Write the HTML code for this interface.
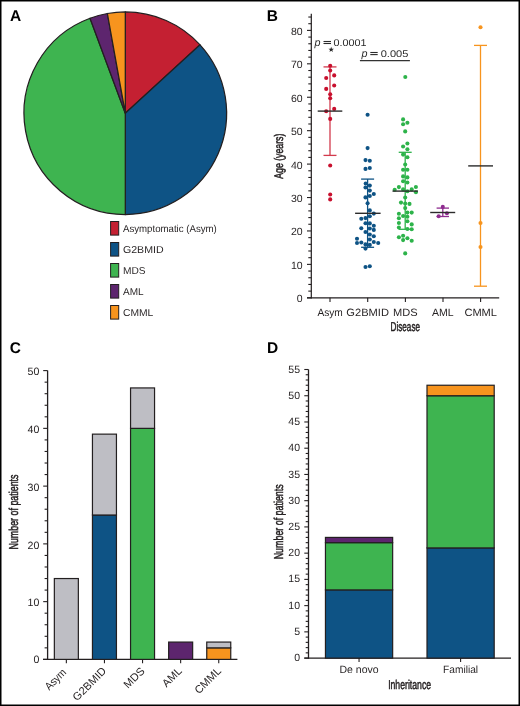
<!DOCTYPE html>
<html><head><meta charset="utf-8"><style>
html,body{margin:0;padding:0;background:#fff;}
svg{display:block;will-change:transform;}
text{font-family:"Liberation Sans", sans-serif;text-rendering:geometricPrecision;}
</style></head><body>
<svg width="520" height="706" viewBox="0 0 520 706">
<rect width="520" height="706" fill="#fff"/>
<rect x="0.75" y="0.75" width="518.5" height="704.5" fill="none" stroke="#000" stroke-width="1.5"/>
<text x="10.00" y="20.80" font-size="15.5" font-weight="bold" fill="#000">A</text>
<path d="M125.3,113.2 L125.30,11.90 A101.3,101.3 0 0 1 200.04,44.82 Z" fill="#C42032" stroke="#231F20" stroke-width="1.25" stroke-linejoin="round"/>
<path d="M125.3,113.2 L200.04,44.82 A101.3,101.3 0 0 1 125.30,214.50 Z" fill="#0E5385" stroke="#231F20" stroke-width="1.25" stroke-linejoin="round"/>
<path d="M125.3,113.2 L125.30,214.50 A101.3,101.3 0 0 1 90.03,18.24 Z" fill="#3EB450" stroke="#231F20" stroke-width="1.25" stroke-linejoin="round"/>
<path d="M125.3,113.2 L90.03,18.24 A101.3,101.3 0 0 1 107.38,13.50 Z" fill="#5D256E" stroke="#231F20" stroke-width="1.25" stroke-linejoin="round"/>
<path d="M125.3,113.2 L107.38,13.50 A101.3,101.3 0 0 1 125.30,11.90 Z" fill="#F7941E" stroke="#231F20" stroke-width="1.25" stroke-linejoin="round"/>
<rect x="110.60" y="221.50" width="8.10" height="13.60" fill="#C42032" stroke="#231F20" stroke-width="1.0"/>
<text x="123.00" y="232.20" font-size="10.0" textLength="93.80" lengthAdjust="spacingAndGlyphs" fill="#231F20">Asymptomatic (Asym)</text>
<rect x="110.60" y="242.50" width="8.10" height="13.60" fill="#0E5385" stroke="#231F20" stroke-width="1.0"/>
<text x="123.00" y="253.20" font-size="10.0" textLength="40.60" lengthAdjust="spacingAndGlyphs" fill="#231F20">G2BMID</text>
<rect x="110.60" y="263.50" width="8.10" height="13.60" fill="#3EB450" stroke="#231F20" stroke-width="1.0"/>
<text x="123.00" y="274.20" font-size="10.0" textLength="22.60" lengthAdjust="spacingAndGlyphs" fill="#231F20">MDS</text>
<rect x="110.60" y="284.50" width="8.10" height="13.60" fill="#5D256E" stroke="#231F20" stroke-width="1.0"/>
<text x="123.00" y="295.20" font-size="10.0" textLength="20.60" lengthAdjust="spacingAndGlyphs" fill="#231F20">AML</text>
<rect x="110.60" y="305.50" width="8.10" height="13.60" fill="#F7941E" stroke="#231F20" stroke-width="1.0"/>
<text x="123.00" y="316.20" font-size="10.0" textLength="30.30" lengthAdjust="spacingAndGlyphs" fill="#231F20">CMML</text>
<text x="266.80" y="20.80" font-size="15.5" font-weight="bold" fill="#000">B</text>
<line x1="311.30" y1="13.80" x2="311.30" y2="298.40" stroke="#231F20" stroke-width="1.2"/>
<line x1="307.00" y1="297.80" x2="499.20" y2="297.80" stroke="#231F20" stroke-width="1.3"/>
<line x1="307.00" y1="297.80" x2="311.30" y2="297.80" stroke="#231F20" stroke-width="1.1"/>
<text x="302.60" y="301.50" font-size="10.5" text-anchor="end" fill="#231F20">0</text>
<line x1="308.30" y1="291.12" x2="311.30" y2="291.12" stroke="#231F20" stroke-width="1.1"/>
<line x1="308.30" y1="284.43" x2="311.30" y2="284.43" stroke="#231F20" stroke-width="1.1"/>
<line x1="308.30" y1="277.75" x2="311.30" y2="277.75" stroke="#231F20" stroke-width="1.1"/>
<line x1="308.30" y1="271.06" x2="311.30" y2="271.06" stroke="#231F20" stroke-width="1.1"/>
<line x1="307.00" y1="264.38" x2="311.30" y2="264.38" stroke="#231F20" stroke-width="1.1"/>
<text x="302.60" y="268.88" font-size="10.5" text-anchor="end" fill="#231F20">10</text>
<line x1="308.30" y1="257.69" x2="311.30" y2="257.69" stroke="#231F20" stroke-width="1.1"/>
<line x1="308.30" y1="251.00" x2="311.30" y2="251.00" stroke="#231F20" stroke-width="1.1"/>
<line x1="308.30" y1="244.32" x2="311.30" y2="244.32" stroke="#231F20" stroke-width="1.1"/>
<line x1="308.30" y1="237.63" x2="311.30" y2="237.63" stroke="#231F20" stroke-width="1.1"/>
<line x1="307.00" y1="230.95" x2="311.30" y2="230.95" stroke="#231F20" stroke-width="1.1"/>
<text x="302.60" y="235.45" font-size="10.5" text-anchor="end" fill="#231F20">20</text>
<line x1="308.30" y1="224.26" x2="311.30" y2="224.26" stroke="#231F20" stroke-width="1.1"/>
<line x1="308.30" y1="217.58" x2="311.30" y2="217.58" stroke="#231F20" stroke-width="1.1"/>
<line x1="308.30" y1="210.90" x2="311.30" y2="210.90" stroke="#231F20" stroke-width="1.1"/>
<line x1="308.30" y1="204.21" x2="311.30" y2="204.21" stroke="#231F20" stroke-width="1.1"/>
<line x1="307.00" y1="197.53" x2="311.30" y2="197.53" stroke="#231F20" stroke-width="1.1"/>
<text x="302.60" y="202.03" font-size="10.5" text-anchor="end" fill="#231F20">30</text>
<line x1="308.30" y1="190.84" x2="311.30" y2="190.84" stroke="#231F20" stroke-width="1.1"/>
<line x1="308.30" y1="184.16" x2="311.30" y2="184.16" stroke="#231F20" stroke-width="1.1"/>
<line x1="308.30" y1="177.47" x2="311.30" y2="177.47" stroke="#231F20" stroke-width="1.1"/>
<line x1="308.30" y1="170.78" x2="311.30" y2="170.78" stroke="#231F20" stroke-width="1.1"/>
<line x1="307.00" y1="164.10" x2="311.30" y2="164.10" stroke="#231F20" stroke-width="1.1"/>
<text x="302.60" y="168.60" font-size="10.5" text-anchor="end" fill="#231F20">40</text>
<line x1="308.30" y1="157.41" x2="311.30" y2="157.41" stroke="#231F20" stroke-width="1.1"/>
<line x1="308.30" y1="150.73" x2="311.30" y2="150.73" stroke="#231F20" stroke-width="1.1"/>
<line x1="308.30" y1="144.04" x2="311.30" y2="144.04" stroke="#231F20" stroke-width="1.1"/>
<line x1="308.30" y1="137.36" x2="311.30" y2="137.36" stroke="#231F20" stroke-width="1.1"/>
<line x1="307.00" y1="130.68" x2="311.30" y2="130.68" stroke="#231F20" stroke-width="1.1"/>
<text x="302.60" y="135.18" font-size="10.5" text-anchor="end" fill="#231F20">50</text>
<line x1="308.30" y1="123.99" x2="311.30" y2="123.99" stroke="#231F20" stroke-width="1.1"/>
<line x1="308.30" y1="117.31" x2="311.30" y2="117.31" stroke="#231F20" stroke-width="1.1"/>
<line x1="308.30" y1="110.62" x2="311.30" y2="110.62" stroke="#231F20" stroke-width="1.1"/>
<line x1="308.30" y1="103.94" x2="311.30" y2="103.94" stroke="#231F20" stroke-width="1.1"/>
<line x1="307.00" y1="97.25" x2="311.30" y2="97.25" stroke="#231F20" stroke-width="1.1"/>
<text x="302.60" y="101.75" font-size="10.5" text-anchor="end" fill="#231F20">60</text>
<line x1="308.30" y1="90.56" x2="311.30" y2="90.56" stroke="#231F20" stroke-width="1.1"/>
<line x1="308.30" y1="83.88" x2="311.30" y2="83.88" stroke="#231F20" stroke-width="1.1"/>
<line x1="308.30" y1="77.19" x2="311.30" y2="77.19" stroke="#231F20" stroke-width="1.1"/>
<line x1="308.30" y1="70.51" x2="311.30" y2="70.51" stroke="#231F20" stroke-width="1.1"/>
<line x1="307.00" y1="63.82" x2="311.30" y2="63.82" stroke="#231F20" stroke-width="1.1"/>
<text x="302.60" y="68.32" font-size="10.5" text-anchor="end" fill="#231F20">70</text>
<line x1="308.30" y1="57.14" x2="311.30" y2="57.14" stroke="#231F20" stroke-width="1.1"/>
<line x1="308.30" y1="50.45" x2="311.30" y2="50.45" stroke="#231F20" stroke-width="1.1"/>
<line x1="308.30" y1="43.77" x2="311.30" y2="43.77" stroke="#231F20" stroke-width="1.1"/>
<line x1="308.30" y1="37.08" x2="311.30" y2="37.08" stroke="#231F20" stroke-width="1.1"/>
<line x1="307.00" y1="30.40" x2="311.30" y2="30.40" stroke="#231F20" stroke-width="1.1"/>
<text x="302.60" y="34.90" font-size="10.5" text-anchor="end" fill="#231F20">80</text>
<line x1="308.30" y1="23.71" x2="311.30" y2="23.71" stroke="#231F20" stroke-width="1.1"/>
<line x1="308.30" y1="17.03" x2="311.30" y2="17.03" stroke="#231F20" stroke-width="1.1"/>
<line x1="330.00" y1="297.80" x2="330.00" y2="301.90" stroke="#231F20" stroke-width="1.1"/>
<line x1="367.70" y1="297.80" x2="367.70" y2="301.90" stroke="#231F20" stroke-width="1.1"/>
<line x1="405.40" y1="297.80" x2="405.40" y2="301.90" stroke="#231F20" stroke-width="1.1"/>
<line x1="443.00" y1="297.80" x2="443.00" y2="301.90" stroke="#231F20" stroke-width="1.1"/>
<line x1="480.60" y1="297.80" x2="480.60" y2="301.90" stroke="#231F20" stroke-width="1.1"/>
<text x="330.10" y="315.60" font-size="10.6" text-anchor="middle" textLength="25.40" lengthAdjust="spacingAndGlyphs" fill="#231F20">Asym</text>
<text x="367.65" y="315.60" font-size="10.6" text-anchor="middle" textLength="42.60" lengthAdjust="spacingAndGlyphs" fill="#231F20">G2BMID</text>
<text x="405.30" y="315.60" font-size="10.6" text-anchor="middle" textLength="24.60" lengthAdjust="spacingAndGlyphs" fill="#231F20">MDS</text>
<text x="442.90" y="315.60" font-size="10.6" text-anchor="middle" textLength="21.60" lengthAdjust="spacingAndGlyphs" fill="#231F20">AML</text>
<text x="480.70" y="315.60" font-size="10.6" text-anchor="middle" textLength="32.60" lengthAdjust="spacingAndGlyphs" fill="#231F20">CMML</text>
<text x="405.30" y="331.20" font-size="12.9" text-anchor="middle" textLength="29.40" lengthAdjust="spacingAndGlyphs" stroke="#231F20" stroke-width="0.5" fill="#231F20">Disease</text>
<text x="0.00" y="0.00" font-size="12.5" text-anchor="middle" textLength="45.20" lengthAdjust="spacingAndGlyphs" transform="translate(283.1,156.2) rotate(-90)" stroke="#231F20" stroke-width="0.5" fill="#231F20">Age (years)</text>
<text x="314.50" y="45.90" font-size="10.8" font-style="italic" fill="#2a2a2a">p</text>
<line x1="323.50" y1="41.50" x2="331.00" y2="41.50" stroke="#2a2a2a" stroke-width="1.1"/>
<line x1="323.50" y1="43.50" x2="331.00" y2="43.50" stroke="#2a2a2a" stroke-width="1.1"/>
<text x="333.60" y="45.70" font-size="9.8" textLength="33.00" lengthAdjust="spacingAndGlyphs" fill="#2a2a2a">0.0001</text>
<polygon points="331.20,46.70 331.91,48.63 333.96,48.70 332.34,49.97 332.90,51.95 331.20,50.80 329.50,51.95 330.06,49.97 328.44,48.70 330.49,48.63" fill="#2a2a2a"/>
<text x="361.50" y="56.70" font-size="10.8" font-style="italic" fill="#2a2a2a">p</text>
<line x1="370.30" y1="52.50" x2="377.70" y2="52.50" stroke="#2a2a2a" stroke-width="1.1"/>
<line x1="370.30" y1="54.60" x2="377.70" y2="54.60" stroke="#2a2a2a" stroke-width="1.1"/>
<text x="380.70" y="57.00" font-size="9.7" textLength="27.60" lengthAdjust="spacingAndGlyphs" fill="#2a2a2a">0.005</text>
<line x1="359.90" y1="60.60" x2="409.90" y2="60.60" stroke="#333" stroke-width="1.3"/>
<line x1="330.00" y1="66.90" x2="330.00" y2="155.40" stroke="#D23A4C" stroke-width="1.3"/>
<line x1="323.50" y1="66.90" x2="336.50" y2="66.90" stroke="#D23A4C" stroke-width="1.3"/>
<line x1="323.50" y1="155.40" x2="336.50" y2="155.40" stroke="#D23A4C" stroke-width="1.3"/>
<line x1="367.60" y1="179.10" x2="367.60" y2="247.30" stroke="#0E5385" stroke-width="1.3"/>
<line x1="361.10" y1="179.10" x2="374.10" y2="179.10" stroke="#0E5385" stroke-width="1.3"/>
<line x1="361.10" y1="247.30" x2="374.10" y2="247.30" stroke="#0E5385" stroke-width="1.3"/>
<line x1="405.20" y1="152.30" x2="405.20" y2="229.30" stroke="#2DB34A" stroke-width="1.3"/>
<line x1="398.70" y1="152.30" x2="411.70" y2="152.30" stroke="#2DB34A" stroke-width="1.3"/>
<line x1="398.70" y1="229.30" x2="411.70" y2="229.30" stroke="#2DB34A" stroke-width="1.3"/>
<line x1="442.80" y1="208.10" x2="442.80" y2="216.50" stroke="#8E2C8F" stroke-width="1.3"/>
<line x1="436.60" y1="208.10" x2="449.00" y2="208.10" stroke="#8E2C8F" stroke-width="1.3"/>
<line x1="436.60" y1="216.50" x2="449.00" y2="216.50" stroke="#8E2C8F" stroke-width="1.3"/>
<line x1="480.50" y1="45.40" x2="480.50" y2="286.20" stroke="#F7941E" stroke-width="1.3"/>
<line x1="474.00" y1="45.40" x2="487.00" y2="45.40" stroke="#F7941E" stroke-width="1.3"/>
<line x1="474.00" y1="286.20" x2="487.00" y2="286.20" stroke="#F7941E" stroke-width="1.3"/>
<circle cx="330.20" cy="65.80" r="2.05" fill="#C8102E"/>
<circle cx="330.20" cy="70.50" r="2.05" fill="#C8102E"/>
<circle cx="334.20" cy="75.40" r="2.05" fill="#C8102E"/>
<circle cx="326.20" cy="78.00" r="2.05" fill="#C8102E"/>
<circle cx="334.20" cy="85.50" r="2.05" fill="#C8102E"/>
<circle cx="326.20" cy="88.90" r="2.05" fill="#C8102E"/>
<circle cx="330.20" cy="94.20" r="2.05" fill="#C8102E"/>
<circle cx="330.20" cy="98.20" r="2.05" fill="#C8102E"/>
<circle cx="334.20" cy="108.90" r="2.05" fill="#C8102E"/>
<circle cx="326.20" cy="111.30" r="2.05" fill="#C8102E"/>
<circle cx="330.20" cy="118.90" r="2.05" fill="#C8102E"/>
<circle cx="330.20" cy="165.50" r="2.05" fill="#C8102E"/>
<circle cx="330.20" cy="194.50" r="2.05" fill="#C8102E"/>
<circle cx="330.20" cy="199.40" r="2.05" fill="#C8102E"/>
<circle cx="367.60" cy="114.70" r="2.05" fill="#0E5385"/>
<circle cx="367.60" cy="148.10" r="2.05" fill="#0E5385"/>
<circle cx="365.50" cy="160.10" r="2.05" fill="#0E5385"/>
<circle cx="369.80" cy="160.80" r="2.05" fill="#0E5385"/>
<circle cx="365.50" cy="168.90" r="2.05" fill="#0E5385"/>
<circle cx="369.80" cy="168.00" r="2.05" fill="#0E5385"/>
<circle cx="365.70" cy="183.50" r="2.05" fill="#0E5385"/>
<circle cx="369.80" cy="185.60" r="2.05" fill="#0E5385"/>
<circle cx="365.50" cy="187.50" r="2.05" fill="#0E5385"/>
<circle cx="369.80" cy="190.60" r="2.05" fill="#0E5385"/>
<circle cx="373.80" cy="194.00" r="2.05" fill="#0E5385"/>
<circle cx="369.80" cy="196.00" r="2.05" fill="#0E5385"/>
<circle cx="365.50" cy="197.40" r="2.05" fill="#0E5385"/>
<circle cx="367.60" cy="203.30" r="2.05" fill="#0E5385"/>
<circle cx="369.80" cy="210.40" r="2.05" fill="#0E5385"/>
<circle cx="373.80" cy="213.60" r="2.05" fill="#0E5385"/>
<circle cx="369.80" cy="216.30" r="2.05" fill="#0E5385"/>
<circle cx="365.50" cy="218.10" r="2.05" fill="#0E5385"/>
<circle cx="361.30" cy="218.70" r="2.05" fill="#0E5385"/>
<circle cx="365.50" cy="223.20" r="2.05" fill="#0E5385"/>
<circle cx="369.80" cy="223.40" r="2.05" fill="#0E5385"/>
<circle cx="373.80" cy="225.80" r="2.05" fill="#0E5385"/>
<circle cx="361.30" cy="228.30" r="2.05" fill="#0E5385"/>
<circle cx="369.80" cy="228.50" r="2.05" fill="#0E5385"/>
<circle cx="373.80" cy="229.90" r="2.05" fill="#0E5385"/>
<circle cx="365.50" cy="232.00" r="2.05" fill="#0E5385"/>
<circle cx="369.80" cy="234.50" r="2.05" fill="#0E5385"/>
<circle cx="373.80" cy="236.30" r="2.05" fill="#0E5385"/>
<circle cx="357.00" cy="238.80" r="2.05" fill="#0E5385"/>
<circle cx="369.80" cy="239.50" r="2.05" fill="#0E5385"/>
<circle cx="357.00" cy="243.00" r="2.05" fill="#0E5385"/>
<circle cx="361.30" cy="242.50" r="2.05" fill="#0E5385"/>
<circle cx="373.80" cy="242.00" r="2.05" fill="#0E5385"/>
<circle cx="378.20" cy="243.00" r="2.05" fill="#0E5385"/>
<circle cx="365.50" cy="244.40" r="2.05" fill="#0E5385"/>
<circle cx="369.80" cy="244.90" r="2.05" fill="#0E5385"/>
<circle cx="365.50" cy="248.60" r="2.05" fill="#0E5385"/>
<circle cx="365.50" cy="267.00" r="2.05" fill="#0E5385"/>
<circle cx="369.80" cy="266.30" r="2.05" fill="#0E5385"/>
<circle cx="405.30" cy="77.00" r="2.05" fill="#2DB34A"/>
<circle cx="403.10" cy="119.40" r="2.05" fill="#2DB34A"/>
<circle cx="407.40" cy="122.80" r="2.05" fill="#2DB34A"/>
<circle cx="403.10" cy="124.20" r="2.05" fill="#2DB34A"/>
<circle cx="405.20" cy="131.40" r="2.05" fill="#2DB34A"/>
<circle cx="407.40" cy="143.50" r="2.05" fill="#2DB34A"/>
<circle cx="403.10" cy="146.50" r="2.05" fill="#2DB34A"/>
<circle cx="407.40" cy="149.20" r="2.05" fill="#2DB34A"/>
<circle cx="403.10" cy="154.60" r="2.05" fill="#2DB34A"/>
<circle cx="407.40" cy="157.30" r="2.05" fill="#2DB34A"/>
<circle cx="405.20" cy="164.50" r="2.05" fill="#2DB34A"/>
<circle cx="403.10" cy="169.70" r="2.05" fill="#2DB34A"/>
<circle cx="407.40" cy="169.70" r="2.05" fill="#2DB34A"/>
<circle cx="403.10" cy="176.40" r="2.05" fill="#2DB34A"/>
<circle cx="407.40" cy="177.40" r="2.05" fill="#2DB34A"/>
<circle cx="403.10" cy="181.30" r="2.05" fill="#2DB34A"/>
<circle cx="407.40" cy="182.50" r="2.05" fill="#2DB34A"/>
<circle cx="398.90" cy="187.10" r="2.05" fill="#2DB34A"/>
<circle cx="415.90" cy="187.00" r="2.05" fill="#2DB34A"/>
<circle cx="394.70" cy="189.70" r="2.05" fill="#2DB34A"/>
<circle cx="403.10" cy="189.40" r="2.05" fill="#2DB34A"/>
<circle cx="411.70" cy="189.40" r="2.05" fill="#2DB34A"/>
<circle cx="407.40" cy="191.20" r="2.05" fill="#2DB34A"/>
<circle cx="415.90" cy="192.30" r="2.05" fill="#2DB34A"/>
<circle cx="405.20" cy="197.50" r="2.05" fill="#2DB34A"/>
<circle cx="401.00" cy="202.60" r="2.05" fill="#2DB34A"/>
<circle cx="405.20" cy="203.60" r="2.05" fill="#2DB34A"/>
<circle cx="409.50" cy="203.90" r="2.05" fill="#2DB34A"/>
<circle cx="405.20" cy="208.10" r="2.05" fill="#2DB34A"/>
<circle cx="407.40" cy="212.60" r="2.05" fill="#2DB34A"/>
<circle cx="411.70" cy="212.60" r="2.05" fill="#2DB34A"/>
<circle cx="398.90" cy="213.70" r="2.05" fill="#2DB34A"/>
<circle cx="403.10" cy="216.00" r="2.05" fill="#2DB34A"/>
<circle cx="407.40" cy="216.70" r="2.05" fill="#2DB34A"/>
<circle cx="398.90" cy="218.20" r="2.05" fill="#2DB34A"/>
<circle cx="407.40" cy="221.30" r="2.05" fill="#2DB34A"/>
<circle cx="398.90" cy="223.00" r="2.05" fill="#2DB34A"/>
<circle cx="411.70" cy="224.40" r="2.05" fill="#2DB34A"/>
<circle cx="398.90" cy="227.50" r="2.05" fill="#2DB34A"/>
<circle cx="407.40" cy="229.00" r="2.05" fill="#2DB34A"/>
<circle cx="411.70" cy="229.20" r="2.05" fill="#2DB34A"/>
<circle cx="403.10" cy="235.80" r="2.05" fill="#2DB34A"/>
<circle cx="398.90" cy="237.30" r="2.05" fill="#2DB34A"/>
<circle cx="407.40" cy="238.30" r="2.05" fill="#2DB34A"/>
<circle cx="403.10" cy="240.10" r="2.05" fill="#2DB34A"/>
<circle cx="411.70" cy="240.70" r="2.05" fill="#2DB34A"/>
<circle cx="405.20" cy="253.40" r="2.05" fill="#2DB34A"/>
<circle cx="442.80" cy="206.90" r="2.05" fill="#8E2C8F"/>
<circle cx="446.90" cy="213.30" r="2.05" fill="#8E2C8F"/>
<circle cx="438.70" cy="216.20" r="2.05" fill="#8E2C8F"/>
<circle cx="480.50" cy="27.30" r="2.05" fill="#F7941E"/>
<circle cx="480.50" cy="223.00" r="2.05" fill="#F7941E"/>
<circle cx="480.50" cy="247.00" r="2.05" fill="#F7941E"/>
<line x1="317.70" y1="111.10" x2="342.30" y2="111.10" stroke="#2b2b2b" stroke-width="1.4"/>
<line x1="355.10" y1="213.30" x2="380.60" y2="213.30" stroke="#2b2b2b" stroke-width="1.4"/>
<line x1="392.50" y1="191.10" x2="418.00" y2="191.10" stroke="#2b2b2b" stroke-width="1.4"/>
<line x1="430.20" y1="212.50" x2="455.20" y2="212.50" stroke="#2b2b2b" stroke-width="1.4"/>
<line x1="468.20" y1="165.90" x2="493.00" y2="165.90" stroke="#2b2b2b" stroke-width="1.4"/>
<text x="9.80" y="353.30" font-size="15.5" font-weight="bold" fill="#000">C</text>
<line x1="47.60" y1="370.60" x2="47.60" y2="660.00" stroke="#231F20" stroke-width="1.3"/>
<line x1="43.00" y1="659.40" x2="237.40" y2="659.40" stroke="#231F20" stroke-width="1.3"/>
<line x1="43.20" y1="659.40" x2="47.60" y2="659.40" stroke="#231F20" stroke-width="1.1"/>
<text x="39.40" y="662.80" font-size="10.6" text-anchor="end" fill="#231F20">0</text>
<line x1="44.60" y1="647.85" x2="47.60" y2="647.85" stroke="#231F20" stroke-width="1.1"/>
<line x1="44.60" y1="636.30" x2="47.60" y2="636.30" stroke="#231F20" stroke-width="1.1"/>
<line x1="44.60" y1="624.74" x2="47.60" y2="624.74" stroke="#231F20" stroke-width="1.1"/>
<line x1="44.60" y1="613.19" x2="47.60" y2="613.19" stroke="#231F20" stroke-width="1.1"/>
<line x1="43.20" y1="601.64" x2="47.60" y2="601.64" stroke="#231F20" stroke-width="1.1"/>
<text x="39.40" y="606.34" font-size="10.6" text-anchor="end" fill="#231F20">10</text>
<line x1="44.60" y1="590.09" x2="47.60" y2="590.09" stroke="#231F20" stroke-width="1.1"/>
<line x1="44.60" y1="578.54" x2="47.60" y2="578.54" stroke="#231F20" stroke-width="1.1"/>
<line x1="44.60" y1="566.98" x2="47.60" y2="566.98" stroke="#231F20" stroke-width="1.1"/>
<line x1="44.60" y1="555.43" x2="47.60" y2="555.43" stroke="#231F20" stroke-width="1.1"/>
<line x1="43.20" y1="543.88" x2="47.60" y2="543.88" stroke="#231F20" stroke-width="1.1"/>
<text x="39.40" y="548.58" font-size="10.6" text-anchor="end" fill="#231F20">20</text>
<line x1="44.60" y1="532.33" x2="47.60" y2="532.33" stroke="#231F20" stroke-width="1.1"/>
<line x1="44.60" y1="520.78" x2="47.60" y2="520.78" stroke="#231F20" stroke-width="1.1"/>
<line x1="44.60" y1="509.22" x2="47.60" y2="509.22" stroke="#231F20" stroke-width="1.1"/>
<line x1="44.60" y1="497.67" x2="47.60" y2="497.67" stroke="#231F20" stroke-width="1.1"/>
<line x1="43.20" y1="486.12" x2="47.60" y2="486.12" stroke="#231F20" stroke-width="1.1"/>
<text x="39.40" y="490.82" font-size="10.6" text-anchor="end" fill="#231F20">30</text>
<line x1="44.60" y1="474.57" x2="47.60" y2="474.57" stroke="#231F20" stroke-width="1.1"/>
<line x1="44.60" y1="463.02" x2="47.60" y2="463.02" stroke="#231F20" stroke-width="1.1"/>
<line x1="44.60" y1="451.46" x2="47.60" y2="451.46" stroke="#231F20" stroke-width="1.1"/>
<line x1="44.60" y1="439.91" x2="47.60" y2="439.91" stroke="#231F20" stroke-width="1.1"/>
<line x1="43.20" y1="428.36" x2="47.60" y2="428.36" stroke="#231F20" stroke-width="1.1"/>
<text x="39.40" y="433.06" font-size="10.6" text-anchor="end" fill="#231F20">40</text>
<line x1="44.60" y1="416.81" x2="47.60" y2="416.81" stroke="#231F20" stroke-width="1.1"/>
<line x1="44.60" y1="405.26" x2="47.60" y2="405.26" stroke="#231F20" stroke-width="1.1"/>
<line x1="44.60" y1="393.70" x2="47.60" y2="393.70" stroke="#231F20" stroke-width="1.1"/>
<line x1="44.60" y1="382.15" x2="47.60" y2="382.15" stroke="#231F20" stroke-width="1.1"/>
<line x1="43.20" y1="370.60" x2="47.60" y2="370.60" stroke="#231F20" stroke-width="1.1"/>
<text x="39.40" y="375.30" font-size="10.6" text-anchor="end" fill="#231F20">50</text>
<rect x="54.35" y="578.54" width="24.00" height="80.86" fill="#BEBEC4" stroke="#231F20" stroke-width="1.2"/>
<rect x="92.45" y="515.00" width="24.00" height="144.40" fill="#0E5385" stroke="#231F20" stroke-width="1.2"/>
<rect x="92.45" y="434.14" width="24.00" height="80.86" fill="#BEBEC4" stroke="#231F20" stroke-width="1.2"/>
<rect x="130.55" y="428.36" width="24.00" height="231.04" fill="#3EB450" stroke="#231F20" stroke-width="1.2"/>
<rect x="130.55" y="387.93" width="24.00" height="40.43" fill="#BEBEC4" stroke="#231F20" stroke-width="1.2"/>
<rect x="168.65" y="642.07" width="24.00" height="17.33" fill="#5D256E" stroke="#231F20" stroke-width="1.2"/>
<rect x="206.75" y="647.85" width="24.00" height="11.55" fill="#F7941E" stroke="#231F20" stroke-width="1.2"/>
<rect x="206.75" y="642.07" width="24.00" height="5.78" fill="#BEBEC4" stroke="#231F20" stroke-width="1.2"/>
<line x1="66.35" y1="659.40" x2="66.35" y2="663.30" stroke="#231F20" stroke-width="1.1"/>
<text x="0.00" y="0.00" font-size="11.0" text-anchor="end" textLength="25.00" lengthAdjust="spacingAndGlyphs" transform="translate(66.85,673.10) rotate(-45)" fill="#231F20">Asym</text>
<line x1="104.45" y1="659.40" x2="104.45" y2="663.30" stroke="#231F20" stroke-width="1.1"/>
<text x="0.00" y="0.00" font-size="11.0" text-anchor="end" transform="translate(106.95,671.70) rotate(-45)" fill="#231F20">G2BMID</text>
<line x1="142.55" y1="659.40" x2="142.55" y2="663.30" stroke="#231F20" stroke-width="1.1"/>
<text x="0.00" y="0.00" font-size="11.0" text-anchor="end" transform="translate(145.35,671.70) rotate(-45)" fill="#231F20">MDS</text>
<line x1="180.65" y1="659.40" x2="180.65" y2="663.30" stroke="#231F20" stroke-width="1.1"/>
<text x="0.00" y="0.00" font-size="11.0" text-anchor="end" transform="translate(182.55,671.70) rotate(-45)" fill="#231F20">AML</text>
<line x1="218.75" y1="659.40" x2="218.75" y2="663.30" stroke="#231F20" stroke-width="1.1"/>
<text x="0.00" y="0.00" font-size="11.0" text-anchor="end" transform="translate(221.80,671.70) rotate(-45)" fill="#231F20">CMML</text>
<text x="0.00" y="0.00" font-size="12.9" text-anchor="middle" textLength="75.00" lengthAdjust="spacingAndGlyphs" transform="translate(18.3,512.0) rotate(-90)" stroke="#231F20" stroke-width="0.5" fill="#231F20">Number of patients</text>
<text x="267.00" y="352.70" font-size="15.5" font-weight="bold" fill="#000">D</text>
<line x1="308.50" y1="369.50" x2="308.50" y2="658.70" stroke="#231F20" stroke-width="1.3"/>
<line x1="304.30" y1="658.10" x2="511.00" y2="658.10" stroke="#231F20" stroke-width="1.3"/>
<line x1="304.30" y1="658.10" x2="308.50" y2="658.10" stroke="#231F20" stroke-width="1.1"/>
<text x="300.00" y="661.20" font-size="10.5" text-anchor="end" fill="#231F20">0</text>
<line x1="305.70" y1="652.85" x2="308.50" y2="652.85" stroke="#231F20" stroke-width="1.1"/>
<line x1="305.70" y1="647.61" x2="308.50" y2="647.61" stroke="#231F20" stroke-width="1.1"/>
<line x1="305.70" y1="642.36" x2="308.50" y2="642.36" stroke="#231F20" stroke-width="1.1"/>
<line x1="305.70" y1="637.11" x2="308.50" y2="637.11" stroke="#231F20" stroke-width="1.1"/>
<line x1="304.30" y1="631.86" x2="308.50" y2="631.86" stroke="#231F20" stroke-width="1.1"/>
<text x="300.00" y="634.96" font-size="10.5" text-anchor="end" fill="#231F20">5</text>
<line x1="305.70" y1="626.62" x2="308.50" y2="626.62" stroke="#231F20" stroke-width="1.1"/>
<line x1="305.70" y1="621.37" x2="308.50" y2="621.37" stroke="#231F20" stroke-width="1.1"/>
<line x1="305.70" y1="616.12" x2="308.50" y2="616.12" stroke="#231F20" stroke-width="1.1"/>
<line x1="305.70" y1="610.87" x2="308.50" y2="610.87" stroke="#231F20" stroke-width="1.1"/>
<line x1="304.30" y1="605.63" x2="308.50" y2="605.63" stroke="#231F20" stroke-width="1.1"/>
<text x="300.00" y="608.73" font-size="10.5" text-anchor="end" fill="#231F20">10</text>
<line x1="305.70" y1="600.38" x2="308.50" y2="600.38" stroke="#231F20" stroke-width="1.1"/>
<line x1="305.70" y1="595.13" x2="308.50" y2="595.13" stroke="#231F20" stroke-width="1.1"/>
<line x1="305.70" y1="589.89" x2="308.50" y2="589.89" stroke="#231F20" stroke-width="1.1"/>
<line x1="305.70" y1="584.64" x2="308.50" y2="584.64" stroke="#231F20" stroke-width="1.1"/>
<line x1="304.30" y1="579.39" x2="308.50" y2="579.39" stroke="#231F20" stroke-width="1.1"/>
<text x="300.00" y="582.49" font-size="10.5" text-anchor="end" fill="#231F20">15</text>
<line x1="305.70" y1="574.14" x2="308.50" y2="574.14" stroke="#231F20" stroke-width="1.1"/>
<line x1="305.70" y1="568.90" x2="308.50" y2="568.90" stroke="#231F20" stroke-width="1.1"/>
<line x1="305.70" y1="563.65" x2="308.50" y2="563.65" stroke="#231F20" stroke-width="1.1"/>
<line x1="305.70" y1="558.40" x2="308.50" y2="558.40" stroke="#231F20" stroke-width="1.1"/>
<line x1="304.30" y1="553.15" x2="308.50" y2="553.15" stroke="#231F20" stroke-width="1.1"/>
<text x="300.00" y="556.25" font-size="10.5" text-anchor="end" fill="#231F20">20</text>
<line x1="305.70" y1="547.91" x2="308.50" y2="547.91" stroke="#231F20" stroke-width="1.1"/>
<line x1="305.70" y1="542.66" x2="308.50" y2="542.66" stroke="#231F20" stroke-width="1.1"/>
<line x1="305.70" y1="537.41" x2="308.50" y2="537.41" stroke="#231F20" stroke-width="1.1"/>
<line x1="305.70" y1="532.17" x2="308.50" y2="532.17" stroke="#231F20" stroke-width="1.1"/>
<line x1="304.30" y1="526.92" x2="308.50" y2="526.92" stroke="#231F20" stroke-width="1.1"/>
<text x="300.00" y="530.02" font-size="10.5" text-anchor="end" fill="#231F20">25</text>
<line x1="305.70" y1="521.67" x2="308.50" y2="521.67" stroke="#231F20" stroke-width="1.1"/>
<line x1="305.70" y1="516.42" x2="308.50" y2="516.42" stroke="#231F20" stroke-width="1.1"/>
<line x1="305.70" y1="511.18" x2="308.50" y2="511.18" stroke="#231F20" stroke-width="1.1"/>
<line x1="305.70" y1="505.93" x2="308.50" y2="505.93" stroke="#231F20" stroke-width="1.1"/>
<line x1="304.30" y1="500.68" x2="308.50" y2="500.68" stroke="#231F20" stroke-width="1.1"/>
<text x="300.00" y="503.78" font-size="10.5" text-anchor="end" fill="#231F20">30</text>
<line x1="305.70" y1="495.43" x2="308.50" y2="495.43" stroke="#231F20" stroke-width="1.1"/>
<line x1="305.70" y1="490.19" x2="308.50" y2="490.19" stroke="#231F20" stroke-width="1.1"/>
<line x1="305.70" y1="484.94" x2="308.50" y2="484.94" stroke="#231F20" stroke-width="1.1"/>
<line x1="305.70" y1="479.69" x2="308.50" y2="479.69" stroke="#231F20" stroke-width="1.1"/>
<line x1="304.30" y1="474.45" x2="308.50" y2="474.45" stroke="#231F20" stroke-width="1.1"/>
<text x="300.00" y="477.55" font-size="10.5" text-anchor="end" fill="#231F20">35</text>
<line x1="305.70" y1="469.20" x2="308.50" y2="469.20" stroke="#231F20" stroke-width="1.1"/>
<line x1="305.70" y1="463.95" x2="308.50" y2="463.95" stroke="#231F20" stroke-width="1.1"/>
<line x1="305.70" y1="458.70" x2="308.50" y2="458.70" stroke="#231F20" stroke-width="1.1"/>
<line x1="305.70" y1="453.46" x2="308.50" y2="453.46" stroke="#231F20" stroke-width="1.1"/>
<line x1="304.30" y1="448.21" x2="308.50" y2="448.21" stroke="#231F20" stroke-width="1.1"/>
<text x="300.00" y="451.31" font-size="10.5" text-anchor="end" fill="#231F20">40</text>
<line x1="305.70" y1="442.96" x2="308.50" y2="442.96" stroke="#231F20" stroke-width="1.1"/>
<line x1="305.70" y1="437.71" x2="308.50" y2="437.71" stroke="#231F20" stroke-width="1.1"/>
<line x1="305.70" y1="432.47" x2="308.50" y2="432.47" stroke="#231F20" stroke-width="1.1"/>
<line x1="305.70" y1="427.22" x2="308.50" y2="427.22" stroke="#231F20" stroke-width="1.1"/>
<line x1="304.30" y1="421.97" x2="308.50" y2="421.97" stroke="#231F20" stroke-width="1.1"/>
<text x="300.00" y="425.07" font-size="10.5" text-anchor="end" fill="#231F20">45</text>
<line x1="305.70" y1="416.73" x2="308.50" y2="416.73" stroke="#231F20" stroke-width="1.1"/>
<line x1="305.70" y1="411.48" x2="308.50" y2="411.48" stroke="#231F20" stroke-width="1.1"/>
<line x1="305.70" y1="406.23" x2="308.50" y2="406.23" stroke="#231F20" stroke-width="1.1"/>
<line x1="305.70" y1="400.98" x2="308.50" y2="400.98" stroke="#231F20" stroke-width="1.1"/>
<line x1="304.30" y1="395.74" x2="308.50" y2="395.74" stroke="#231F20" stroke-width="1.1"/>
<text x="300.00" y="398.84" font-size="10.5" text-anchor="end" fill="#231F20">50</text>
<line x1="305.70" y1="390.49" x2="308.50" y2="390.49" stroke="#231F20" stroke-width="1.1"/>
<line x1="305.70" y1="385.24" x2="308.50" y2="385.24" stroke="#231F20" stroke-width="1.1"/>
<line x1="305.70" y1="379.99" x2="308.50" y2="379.99" stroke="#231F20" stroke-width="1.1"/>
<line x1="305.70" y1="374.75" x2="308.50" y2="374.75" stroke="#231F20" stroke-width="1.1"/>
<line x1="304.30" y1="369.50" x2="308.50" y2="369.50" stroke="#231F20" stroke-width="1.1"/>
<text x="300.00" y="372.60" font-size="10.5" text-anchor="end" fill="#231F20">55</text>
<rect x="325.45" y="589.89" width="67.20" height="68.21" fill="#0E5385" stroke="#231F20" stroke-width="1.2"/>
<rect x="325.45" y="542.66" width="67.20" height="47.23" fill="#3EB450" stroke="#231F20" stroke-width="1.2"/>
<rect x="325.45" y="537.41" width="67.20" height="5.25" fill="#5D256E" stroke="#231F20" stroke-width="1.2"/>
<rect x="427.00" y="547.91" width="67.20" height="110.19" fill="#0E5385" stroke="#231F20" stroke-width="1.2"/>
<rect x="427.00" y="395.74" width="67.20" height="152.17" fill="#3EB450" stroke="#231F20" stroke-width="1.2"/>
<rect x="427.00" y="385.24" width="67.20" height="10.49" fill="#F7941E" stroke="#231F20" stroke-width="1.2"/>
<line x1="359.05" y1="658.10" x2="359.05" y2="662.00" stroke="#231F20" stroke-width="1.1"/>
<text x="359.05" y="672.90" font-size="10.5" text-anchor="middle" fill="#231F20">De novo</text>
<line x1="460.60" y1="658.10" x2="460.60" y2="662.00" stroke="#231F20" stroke-width="1.1"/>
<text x="460.60" y="672.90" font-size="10.5" text-anchor="middle" textLength="35.00" lengthAdjust="spacingAndGlyphs" fill="#231F20">Familial</text>
<text x="409.60" y="688.60" font-size="12.9" text-anchor="middle" textLength="42.90" lengthAdjust="spacingAndGlyphs" stroke="#231F20" stroke-width="0.5" fill="#231F20">Inheritance</text>
<text x="0.00" y="0.00" font-size="12.9" text-anchor="middle" textLength="75.00" lengthAdjust="spacingAndGlyphs" transform="translate(283.0,521.8) rotate(-90)" stroke="#231F20" stroke-width="0.5" fill="#231F20">Number of patients</text>
</svg>
</body></html>
